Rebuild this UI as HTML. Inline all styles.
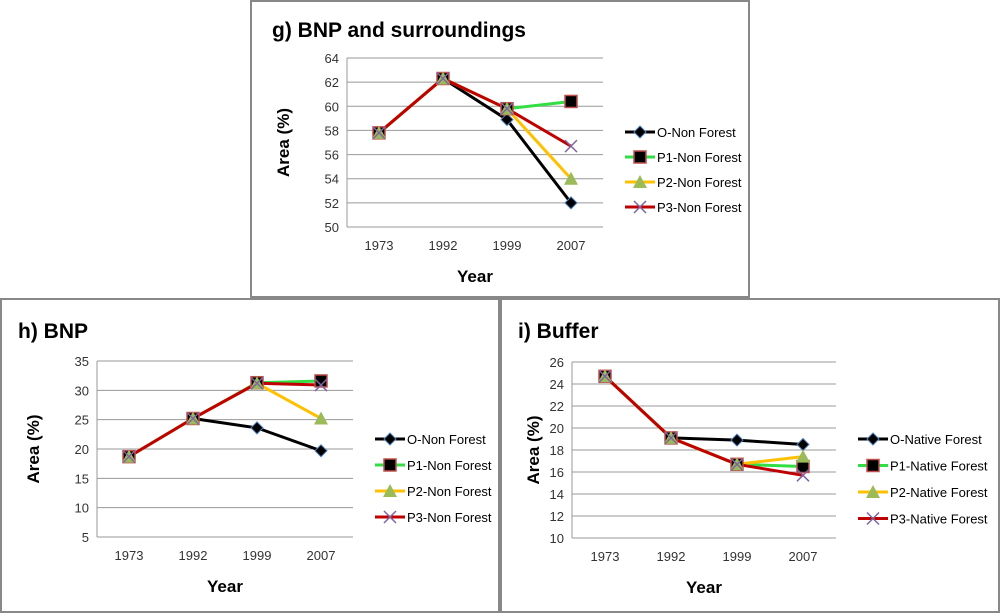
<!DOCTYPE html>
<html><head><meta charset="utf-8"><style>
body{margin:0;background:#fff;font-family:"Liberation Sans",sans-serif}
svg{display:block}
</style></head><body>
<svg id="s" width="1000" height="613" xmlns="http://www.w3.org/2000/svg" font-family="Liberation Sans, sans-serif"></svg>
<script>
const years = ["1973","1992","1999","2007"];
const gO = [57.8,62.3,58.9,52.0];
const gP1 = [57.8,62.3,59.8,60.4];
const gP2 = [57.8,62.3,59.8,54.0];
const gP3 = [57.8,62.3,59.8,56.7];
const hO = [18.7,25.2,23.6,19.7];
const hP1 = [18.7,25.2,31.3,31.6];
const hP2 = [18.7,25.2,31.2,25.2];
const hP3 = [18.7,25.2,31.2,30.9];
const iO = [24.7,19.1,18.9,18.5];
const iP1 = [24.7,19.1,16.7,16.5];
const iP2 = [24.7,19.1,16.7,17.4];
const iP3 = [24.7,19.1,16.7,15.7];
const gTicks = [50,52,54,56,58,60,62,64];
const hTicks = [5,10,15,20,25,30,35];
const iTicks = [10,12,14,16,18,20,22,24,26];
const gNames = ["O-Non Forest","P1-Non Forest","P2-Non Forest","P3-Non Forest"];
const iNames = ["O-Native Forest","P1-Native Forest","P2-Native Forest","P3-Native Forest"];

const S=document.getElementById('s');
const NS="http://www.w3.org/2000/svg";
function mk(t,a,p){const e=document.createElementNS(NS,t);for(const k in a)e.setAttribute(k,a[k]);(p||S).appendChild(e);return e;}
function txt(x,y,s,a,p){const e=mk('text',Object.assign({x:x,y:y},a),p);e.textContent=s;return e;}
const colors=["#000000","#33dd44","#ffc000","#c00000"];
function marker(k,x,y,g){
  if(k===0){const m=mk('polygon',{points:`${x},${y-6} ${x+6},${y} ${x},${y+6} ${x-6},${y}`,fill:'#000',stroke:'#4f81bd','stroke-width':1},g);}
  else if(k===1){const m=mk('rect',{x:x-6,y:y-6,width:12,height:12,fill:'#000',stroke:'#c0504d','stroke-width':1.5},g);}
  else if(k===2){const m=mk('polygon',{points:`${x},${y-7} ${x+7},${y+6} ${x-7},${y+6}`,fill:'#9bbb59'},g);}
  else {const m=mk('path',{d:`M${x-6} ${y-6}L${x+6} ${y+6}M${x+6} ${y-6}L${x-6} ${y+6}`,stroke:'#8064a2','stroke-width':1.5},g);}
}
function chart(o){
  const g=mk('g',{});
  
  
  const b=mk('rect',{x:o.bx,y:o.by,width:o.bw,height:o.bh,fill:'#fff',stroke:'#888','stroke-width':2},g);
  
  const t=txt(o.tx,o.ty,o.title,{'font-size':21,'font-weight':'bold',fill:'#000'},g);
  
  const lo=o.ticks[0],hi=o.ticks[o.ticks.length-1];
  const Y=v=>o.y1+(hi-v)/(hi-lo)*(o.y0-o.y1);
  const bw=(o.x1-o.x0)/years.length;
  const X=i=>o.x0+bw*(i+0.5);
  o.ticks.forEach(v=>{
    const l=mk('line',{x1:o.x0,x2:o.x1,y1:Y(v),y2:Y(v),stroke:'#999','stroke-width':1},g);
    
    const tl=txt(o.x0-8,Y(v)+5,String(v),{'font-size':13,'text-anchor':'end',fill:'#333'},g);
    
  });
  const ax=mk('line',{x1:o.x0,x2:o.x0,y1:o.y1,y2:o.y0,stroke:'#999'},g);
  
  years.forEach((yr,i)=>{const tl=txt(X(i),o.y0+23,yr,{'font-size':13,'text-anchor':'middle',fill:'#333'},g);
    });
  const xt=txt((o.x0+o.x1)/2,o.y0+55,'Year',{'font-size':17,'font-weight':'bold','text-anchor':'middle'},g);
  
  const yc=(o.y0+o.y1)/2;
  const yt=txt(o.yx,yc,'Area (%)',{'font-size':17,'font-weight':'bold','text-anchor':'middle',transform:`rotate(-90 ${o.yx} ${yc})`},g);
  
  o.series.forEach((s,k)=>{
    const pl=mk('polyline',{points:s.map((v,i)=>X(i)+','+Y(v)).join(' '),fill:'none',stroke:colors[k],'stroke-width':3,'stroke-linejoin':'round'},g);
    
  });
  o.series.forEach((s,k)=>s.forEach((v,i)=>{marker(k,X(i),Y(v),g);}));
  o.names.forEach((n,k)=>{
    const ly=o.ly+k*o.ld;
    const lg=mk('g',{},g);
    
    mk('line',{x1:o.lx,x2:o.lx+30,y1:ly,y2:ly,stroke:colors[k],'stroke-width':3},lg);
    marker(k,o.lx+15,ly,lg);
    txt(o.lx+32,ly+5,n,{'font-size':13,fill:'#000'},lg);
  });
}
chart({name:'chart-g',bx:251,by:1,bw:498,bh:296,tx:272,ty:37,title:'g) BNP and surroundings',x0:347,x1:603,y1:58,y0:227,ticks:gTicks,yx:289,series:[gO,gP1,gP2,gP3],names:gNames,lx:625,ly:132,ld:25});
chart({name:'chart-h',bx:1,by:299,bw:498,bh:313,tx:18,ty:338,title:'h) BNP',x0:97,x1:353,y1:361,y0:537,ticks:hTicks,yx:39,series:[hO,hP1,hP2,hP3],names:gNames,lx:375,ly:439,ld:26});
chart({name:'chart-i',bx:501,by:299,bw:498,bh:313,tx:518,ty:338,title:'i) Buffer',x0:572,x1:836,y1:362,y0:538,ticks:iTicks,yx:539,series:[iO,iP1,iP2,iP3],names:iNames,lx:858,ly:439,ld:26.5});
</script>
</body></html>
